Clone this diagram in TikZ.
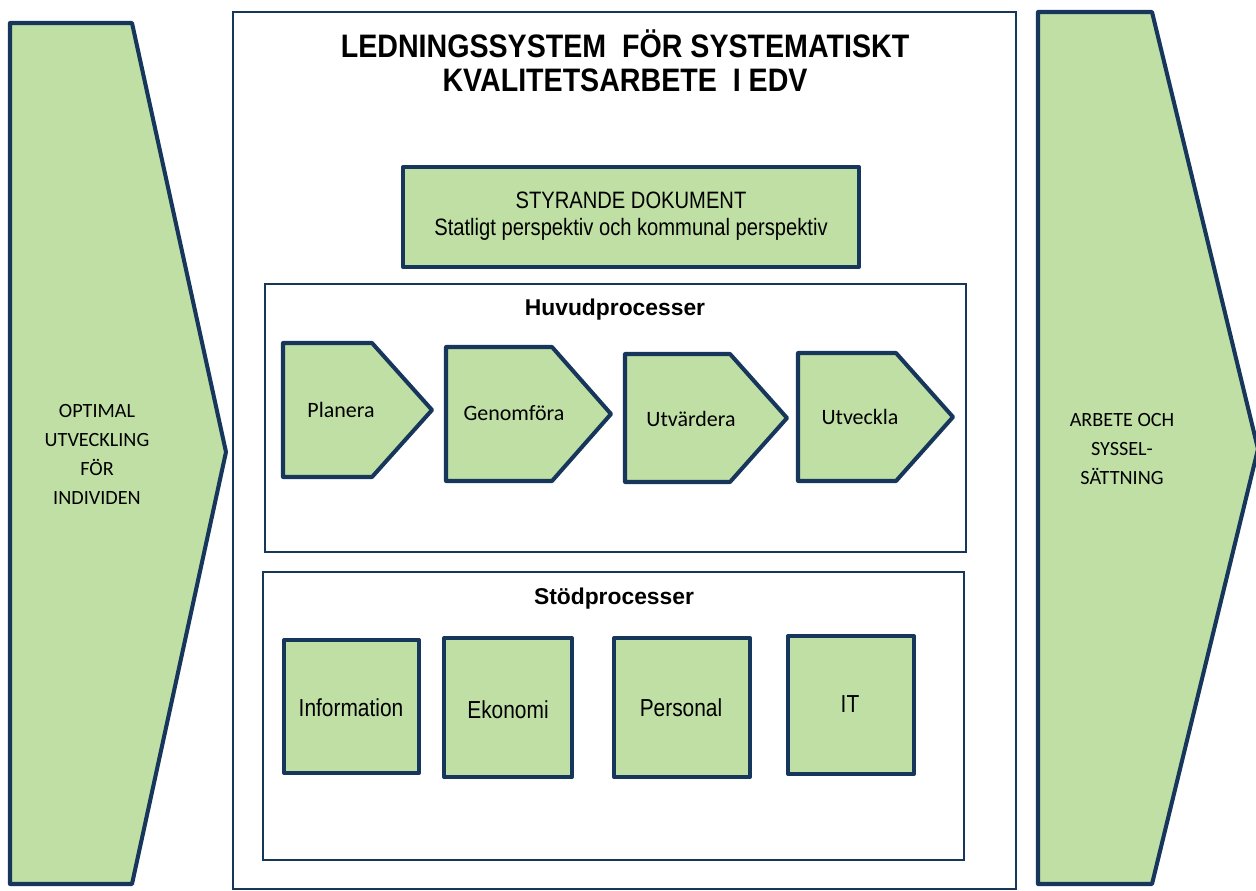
\documentclass[tikz,border=0pt]{standalone}
\usepackage{fontspec}
\setmainfont{Liberation Sans}
\newfontfamily\narrowfont[FakeStretch=0.85]{Liberation Sans}
\newfontfamily\titlefont[FakeStretch=0.88]{Liberation Sans}
\newfontfamily\calfont{Carlito}
\definecolor{boxgreen}{RGB}{192,223,165}
\definecolor{navy}{RGB}{22,54,92}
\begin{document}
\begin{tikzpicture}[x=0.02cm,y=-0.02cm,
  thickshape/.style={draw=navy,fill=boxgreen,line width=2.3pt,line join=round},
  thinframe/.style={draw=navy,line width=1.2pt},
  sidetext/.style={font=\calfont\fontsize{11.5}{16.5}\selectfont,align=center,text=black},
  proctext/.style={font=\calfont\fontsize{12.5}{14}\selectfont,text=black},
  stodtext/.style={font=\narrowfont\fontsize{14}{16}\selectfont,text=black},
  headtext/.style={font=\bfseries\fontsize{13}{15}\selectfont,text=black}]
\useasboundingbox (0,0) rectangle (1256,891);
% side arrows
\draw[thickshape] (10,23) -- (132,23) -- (226,452) -- (132,884) -- (10,884) -- cycle;
\draw[thickshape] (1038,12) -- (1152,12) -- (1258,449) -- (1152,884) -- (1038,884) -- cycle;
\node[sidetext] (lefttxt) at (97,454) {OPTIMAL\\UTVECKLING\\FÖR\\INDIVIDEN};
\node[sidetext] (righttxt) at (1122,449) {ARBETE OCH\\SYSSEL-\\SÄTTNING};
% centre frame
\draw[thinframe] (233,12) rectangle (1016,889);
\node[font=\titlefont\bfseries\fontsize{18.5}{20}\selectfont,align=center] (title) at (625,61)
  {LEDNINGSSYSTEM~~FÖR SYSTEMATISKT\\[-0.5pt]KVALITETSARBETE~~I EDV};
% styrande dokument
\draw[thickshape] (403,167) rectangle (859,267);
\node[font=\narrowfont\fontsize{13.5}{15.5}\selectfont,align=center] (styr) at (631,216)
  {STYRANDE DOKUMENT\\Statligt perspektiv och kommunal perspektiv};
% huvudprocesser
\draw[thinframe] (265,284) rectangle (966,552);
\node[headtext] (huvud) at (615,310) {Huvudprocesser};
\draw[thickshape] (283,343) -- (372,343) -- (432,410) -- (372,477) -- (283,477) -- cycle;
\draw[thickshape] (446,347) -- (552,347) -- (611,414) -- (552,481) -- (446,481) -- cycle;
\draw[thickshape] (625,354) -- (730,354) -- (787,418) -- (730,482) -- (625,482) -- cycle;
\draw[thickshape] (798,353) -- (896,353) -- (953,417) -- (896,481) -- (798,481) -- cycle;
\node[proctext] (planera) at (341,410) {Planera};
\node[proctext] (genomfora) at (514,413) {Genomföra};
\node[proctext] (utvardera) at (691,419) {Utvärdera};
\node[proctext] (utveckla) at (860,417) {Utveckla};
% stodprocesser
\draw[thinframe] (263,572) rectangle (964,860);
\node[headtext] (stod) at (614,599) {Stödprocesser};
\draw[thickshape] (284,640) rectangle (419,773);
\draw[thickshape] (444,638) rectangle (572,777);
\draw[thickshape] (614,638) rectangle (750,777);
\draw[thickshape] (788,636) rectangle (914,774);
\node[stodtext] (info) at (351,708) {Information};
\node[stodtext] (ekon) at (508,710) {Ekonomi};
\node[stodtext] (pers) at (681,708) {Personal};
\node[stodtext] (it) at (850,704) {IT};
\end{tikzpicture}
\end{document}
